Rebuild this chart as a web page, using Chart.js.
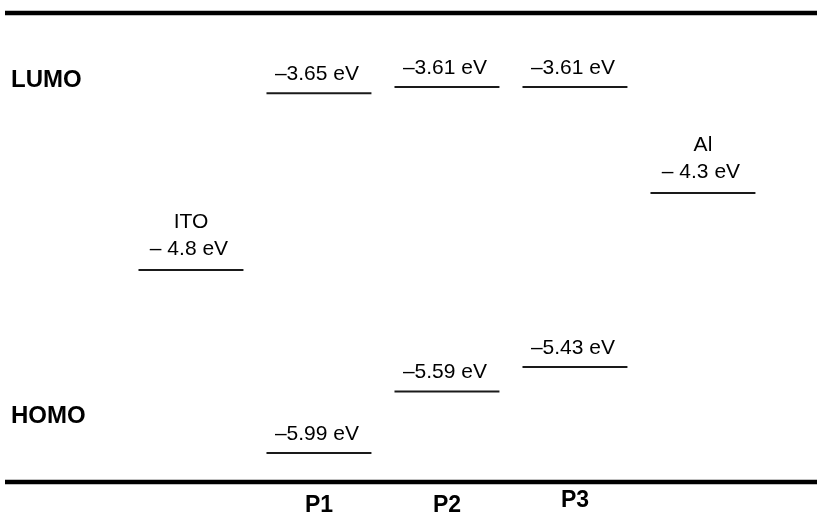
<!DOCTYPE html>
<html>
<head>
<meta charset="utf-8">
<title>Energy levels</title>
<script src="https://cdn.jsdelivr.net/npm/chart.js@4.4.1/dist/chart.umd.min.js"></script>
<style>
  html, body { margin: 0; padding: 0; background: #ffffff; }
  #wrap { width: 817px; height: 515px; }
</style>
</head>
<body>
<div id="wrap"><canvas id="c" width="817" height="515"></canvas></div>
<script>
// Columns of the diagram (electrode / polymer)
const columns = ['ITO', 'P1', 'P2', 'P3', 'Al'];
// Polymer frontier orbital energies (eV)
const lumo = [null, -3.65, -3.61, -3.61, null];
const homo = [null, -5.99, -5.59, -5.43, null];
// Electrode work functions (eV)
const workFunction = [-4.8, null, null, null, -4.3];
// Row and column captions
const rowLabels = ['LUMO', 'HOMO'];
const polymerLabels = ['P1', 'P2', 'P3'];

const FONT = '"Liberation Sans", Arial, Helvetica, sans-serif';
const LEVEL_COLOR = '#1a1a1a';
const HALF_WIDTH = 0.41;          // half length of a level bar, in column units
const CAPTION_LIFT = [0, 0, 5];   // small vertical nudges for the polymer captions (px)

// Build one short horizontal segment per energy level
const levels = [];
columns.forEach((name, i) => {
  if (lumo[i] !== null) levels.push({ col: i, value: lumo[i], kind: 'polymer' });
  if (homo[i] !== null) levels.push({ col: i, value: homo[i], kind: 'polymer' });
  if (workFunction[i] !== null) levels.push({ col: i, value: workFunction[i], kind: 'electrode', name });
});

function levelText(lv) {
  const mag = Math.abs(lv.value);
  return lv.kind === 'electrode'
    ? '\u2013 ' + mag.toFixed(1) + ' eV'
    : '\u2013' + mag.toFixed(2) + ' eV';
}

const datasets = levels.map(lv => ({
  data: [{ x: lv.col - HALF_WIDTH, y: lv.value }, { x: lv.col + HALF_WIDTH, y: lv.value }],
  borderColor: LEVEL_COLOR,
  borderWidth: 2,
  pointRadius: 0,
  tension: 0,
  fill: false
}));

const annotate = {
  id: 'annotate',
  afterDatasetsDraw(chart) {
    const { ctx, chartArea, scales: { x, y } } = chart;
    ctx.save();

    // Heavy frame lines at the top and bottom of the energy window
    ctx.strokeStyle = '#000';
    ctx.lineWidth = 4.5;
    ctx.beginPath();
    ctx.moveTo(5, chartArea.top);
    ctx.lineTo(chartArea.right, chartArea.top);
    ctx.moveTo(5, chartArea.bottom);
    ctx.lineTo(chartArea.right, chartArea.bottom);
    ctx.stroke();

    // Value labels above every level
    ctx.fillStyle = '#000';
    ctx.textAlign = 'center';
    ctx.textBaseline = 'middle';
    ctx.font = '21px ' + FONT;
    levels.forEach(lv => {
      const px = x.getPixelForValue(lv.col);
      const py = y.getPixelForValue(lv.value);
      const lift = lv.kind === 'electrode' ? 21 : 19;
      ctx.fillText(levelText(lv), px - 2, py - lift);
      if (lv.name) ctx.fillText(lv.name, px, py - 48);
    });

    // Row captions on the left
    ctx.font = 'bold 24px ' + FONT;
    ctx.textAlign = 'left';
    ctx.fillText(rowLabels[0], 11, y.getPixelForValue(-3.565));
    ctx.fillText(rowLabels[1], 11, y.getPixelForValue(-5.75));

    // Polymer names under the bottom frame line
    ctx.font = 'bold 23px ' + FONT;
    ctx.textAlign = 'center';
    polymerLabels.forEach((p, k) => {
      const i = columns.indexOf(p);
      ctx.fillText(p, x.getPixelForValue(i), chartArea.bottom + 24 - CAPTION_LIFT[k]);
    });
    ctx.restore();
  }
};

new Chart(document.getElementById('c'), {
  type: 'line',
  data: { datasets },
  options: {
    responsive: false,
    animation: false,
    layout: { padding: { top: 13, bottom: 33, left: 0, right: 0 } },
    plugins: { legend: { display: false }, tooltip: { enabled: false } },
    scales: {
      x: { type: 'linear', display: false, min: -1.492, max: 4.891 },
      y: { type: 'linear', display: false, min: -6.178, max: -3.129 }
    }
  },
  plugins: [annotate]
});
</script>
</body>
</html>
